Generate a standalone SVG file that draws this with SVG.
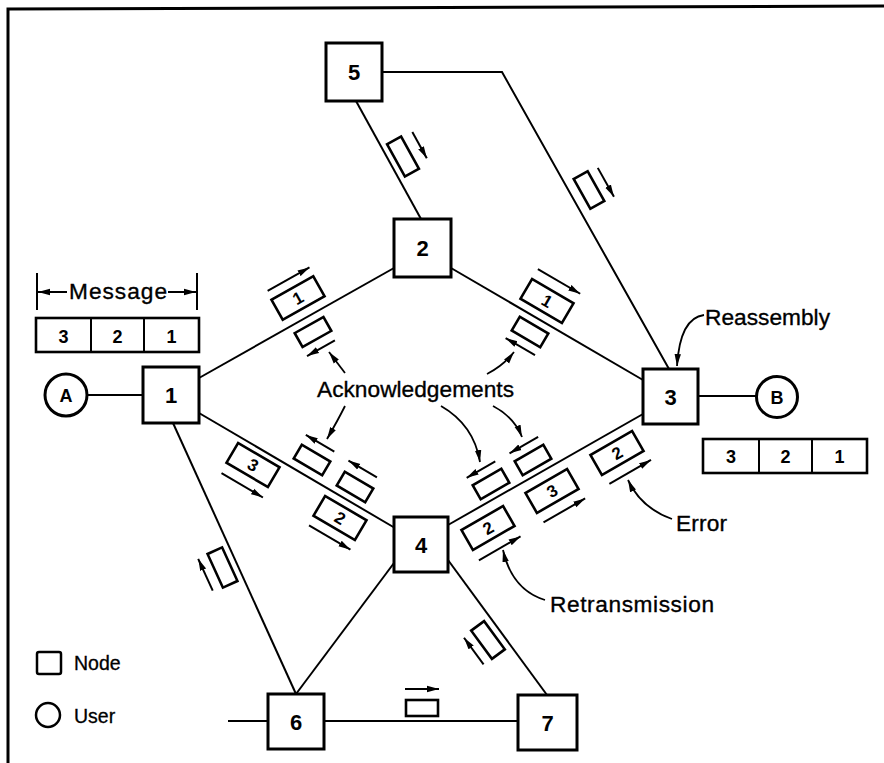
<svg xmlns="http://www.w3.org/2000/svg" width="884" height="763" viewBox="0 0 884 763">
<style>
  .ln{stroke:#000;stroke-width:2;fill:none}
  .bx{stroke:#000;stroke-width:3;fill:#fff}
  .pk{stroke:#000;stroke-width:2.6;fill:#fff}
  .ar{stroke:#000;stroke-width:2;fill:none;marker-end:url(#ah)}
  .cv{stroke:#000;stroke-width:1.8;fill:none;marker-end:url(#ah)}
  .num{font-family:"Liberation Sans",Arial,sans-serif;font-weight:bold;font-size:22px;text-anchor:middle}
  .pn{font-family:"Liberation Sans",Arial,sans-serif;font-weight:bold;font-size:17px;text-anchor:middle}
  .mn{font-family:"Liberation Sans",Arial,sans-serif;font-weight:bold;font-size:18px;text-anchor:middle}
  .lb{font-family:"Liberation Sans",Arial,sans-serif;font-size:22.7px;stroke:#000;stroke-width:0.35}
  .lg{font-family:"Liberation Sans",Arial,sans-serif;font-size:19.5px;stroke:#000;stroke-width:0.3}
</style>
<defs>
  <marker id="ah" markerUnits="userSpaceOnUse" markerWidth="13" markerHeight="8" refX="12" refY="4" orient="auto">
    <path d="M0,0.8 L12,4 L0,7.2 z" fill="#000"/>
  </marker>
</defs>
<rect width="884" height="763" fill="#fff"/>
<!-- frame -->
<path d="M8,763 L8,9 L884,6" stroke="#000" stroke-width="3" fill="none"/>

<!-- connectors -->
<g id="connectors">
  <line class="ln" x1="87" y1="395" x2="143" y2="395"/>
  <line class="ln" x1="698" y1="396" x2="757" y2="396"/>
  <line class="ln" x1="199" y1="378" x2="394" y2="268"/>
  <line class="ln" x1="451" y1="268" x2="643" y2="380"/>
  <line class="ln" x1="199" y1="413" x2="395" y2="528"/>
  <line class="ln" x1="448" y1="525" x2="643" y2="414"/>
  <line class="ln" x1="356" y1="101" x2="421" y2="219"/>
  <polyline class="ln" points="382,72 502,72 669,369"/>
  <line class="ln" x1="173" y1="423" x2="296" y2="694"/>
  <line class="ln" x1="394" y1="563" x2="296" y2="694"/>
  <line class="ln" x1="448" y1="560" x2="547" y2="695"/>
  <line class="ln" x1="228" y1="721" x2="268" y2="721"/>
  <line class="ln" x1="324" y1="721" x2="518" y2="721"/>
</g>

<!-- nodes -->
<g id="node5"><rect class="bx" x="326" y="43" width="56" height="58"/><text class="num" x="354" y="80">5</text></g>
<g id="node2"><rect class="bx" x="394" y="219" width="57" height="58"/><text class="num" x="422.5" y="256">2</text></g>
<g id="node1"><rect class="bx" x="143" y="367" width="56" height="56"/><text class="num" x="171" y="403">1</text></g>
<g id="node3"><rect class="bx" x="643" y="369" width="55" height="55"/><text class="num" x="670.5" y="404.5">3</text></g>
<g id="node4"><rect class="bx" x="394" y="517" width="54" height="55"/><text class="num" x="421" y="552.5">4</text></g>
<g id="node6"><rect class="bx" x="268" y="694" width="56" height="55"/><text class="num" x="296" y="729.5">6</text></g>
<g id="node7"><rect class="bx" x="518" y="695" width="59" height="55"/><text class="num" x="547.5" y="730.5">7</text></g>
<g id="userA"><circle class="bx" cx="66" cy="395" r="21" stroke-width="2.5"/><text class="mn" x="66" y="401.5">A</text></g>
<g id="userB"><circle class="bx" cx="777" cy="397" r="20.5" stroke-width="2.5"/><text class="mn" x="777" y="403.5">B</text></g>

<!-- packets -->
<g id="packets">
  <!-- 1-2 -->
  <g transform="translate(298,298) rotate(-29.4)"><rect class="pk" x="-24" y="-11.5" width="48" height="23"/><text class="pn" x="0" y="6">1</text><line class="ar" x1="-23" y1="-21" x2="25" y2="-21"/></g>
  <g transform="translate(313,332) rotate(-29.4)"><rect class="pk" x="-16.5" y="-8" width="33" height="16"/><line class="ar" x1="15" y1="18" x2="-17" y2="18"/></g>
  <!-- 2-3 -->
  <g transform="translate(547,301) rotate(30.3)"><rect class="pk" x="-24" y="-11.5" width="48" height="23"/><text class="pn" x="0" y="6">1</text><line class="ar" x1="-24" y1="-23" x2="25" y2="-23"/></g>
  <g transform="translate(530,332) rotate(30.3)"><rect class="pk" x="-16.5" y="-8" width="33" height="16"/><line class="ar" x1="16" y1="17.5" x2="-18" y2="17.5"/></g>
  <!-- 1-4 -->
  <g transform="translate(253,465) rotate(30.4)"><rect class="pk" x="-24" y="-11.5" width="48" height="23"/><text class="pn" x="0" y="6">3</text><line class="ar" x1="-23" y1="23" x2="25" y2="23"/></g>
  <g transform="translate(340,518) rotate(30.4)"><rect class="pk" x="-24" y="-11.5" width="48" height="23"/><text class="pn" x="0" y="6">2</text><line class="ar" x1="-23" y1="22" x2="25" y2="22"/></g>
  <g transform="translate(312,460) rotate(30.4)"><rect class="pk" x="-16.5" y="-8" width="33" height="16"/><line class="ar" x1="15" y1="-18.5" x2="-18" y2="-18.5"/></g>
  <g transform="translate(355,487) rotate(30.4)"><rect class="pk" x="-16.5" y="-8" width="33" height="16"/><line class="ar" x1="14" y1="-19.5" x2="-19" y2="-19.5"/></g>
  <!-- 4-3 -->
  <g transform="translate(491,484) rotate(-29.9)"><rect class="pk" x="-16.5" y="-8" width="33" height="16"/><line class="ar" x1="15" y1="-17.5" x2="-18" y2="-17.5"/></g>
  <g transform="translate(533,460) rotate(-29.9)"><rect class="pk" x="-16.5" y="-8" width="33" height="16"/><line class="ar" x1="16" y1="-17.5" x2="-17" y2="-17.5"/></g>
  <g transform="translate(552,491) rotate(-29.9)"><rect class="pk" x="-24" y="-11.5" width="48" height="23"/><text class="pn" x="0" y="6">3</text><line class="ar" x1="-23" y1="23" x2="25" y2="23"/></g>
  <g transform="translate(488,528) rotate(-29.9)"><rect class="pk" x="-24" y="-11.5" width="48" height="23"/><text class="pn" x="0" y="6">2</text><line class="ar" x1="-24" y1="23.5" x2="24" y2="23.5"/></g>
  <g transform="translate(617,453) rotate(-29.9)"><rect class="pk" x="-24" y="-11.5" width="48" height="23"/><text class="pn" x="0" y="6">2</text><line class="ar" x1="-22" y1="23" x2="26" y2="23"/></g>
  <!-- 5-2, 5-3 -->
  <g transform="translate(403,156.5) rotate(61.2)"><rect class="pk" x="-18.5" y="-8" width="37" height="16"/><line class="ar" x1="-17" y1="-20" x2="13" y2="-20"/></g>
  <g transform="translate(589,190) rotate(60.7)"><rect class="pk" x="-17" y="-8" width="34" height="16"/><line class="ar" x1="-15" y1="-18.5" x2="18" y2="-18.5"/></g>
  <!-- 1-6, 4-7, 6-7 -->
  <g transform="translate(222.5,567.5) rotate(65.5)"><rect class="pk" x="-18.5" y="-8" width="37" height="16"/><line class="ar" x1="17" y1="18.5" x2="-18" y2="18.5"/></g>
  <g transform="translate(488,640) rotate(53.7)"><rect class="pk" x="-17.5" y="-8" width="35" height="16"/><line class="ar" x1="17" y1="18" x2="-16" y2="18"/></g>
  <g transform="translate(422,708)"><rect class="pk" x="-16" y="-8" width="32" height="16"/><line class="ar" x1="-17" y1="-19" x2="17" y2="-19"/></g>
</g>

<!-- message legend -->
<g id="message">
  <line class="ln" x1="37" y1="273" x2="37" y2="310"/>
  <line class="ln" x1="197" y1="273" x2="197" y2="310"/>
  <line class="ar" x1="67" y1="292" x2="38" y2="292"/>
  <line class="ar" x1="168" y1="292" x2="196" y2="292"/>
  <text class="lb" x="69" y="299" textLength="98">Message</text>
  <rect x="36" y="318" width="163" height="34" fill="#fff" stroke="#000" stroke-width="2.6"/>
  <line class="ln" x1="91" y1="318" x2="91" y2="352"/>
  <line class="ln" x1="144" y1="318" x2="144" y2="352"/>
  <text class="mn" x="63.5" y="343">3</text>
  <text class="mn" x="117.5" y="343">2</text>
  <text class="mn" x="171.5" y="343">1</text>
</g>
<g id="reassembled">
  <rect x="703" y="439" width="164" height="34" fill="#fff" stroke="#000" stroke-width="2.6"/>
  <line class="ln" x1="759" y1="439" x2="759" y2="473"/>
  <line class="ln" x1="812" y1="439" x2="812" y2="473"/>
  <text class="mn" x="731" y="463">3</text>
  <text class="mn" x="785.5" y="463">2</text>
  <text class="mn" x="839.5" y="463">1</text>
</g>

<!-- annotations -->
<g id="annotations">
  <text class="lb" x="317" y="397" textLength="197">Acknowledgements</text>
  <line class="cv" x1="345" y1="373" x2="329" y2="352"/>
  <path class="cv" d="M345,406 Q338,420 327,439"/>
  <path class="cv" d="M487,374 Q503,366 514,352"/>
  <path class="cv" d="M441,406 Q474,425 480,462"/>
  <path class="cv" d="M493,406 Q514,417 522,437"/>
  <text class="lb" x="705" y="325" textLength="125">Reassembly</text>
  <path class="cv" d="M704,315 Q680,318 677,366"/>
  <text class="lb" x="676" y="531" textLength="51">Error</text>
  <path class="cv" d="M672,519 Q641,508 628,480"/>
  <text class="lb" x="550" y="612" textLength="164">Retransmission</text>
  <path class="cv" d="M545,600 Q512,590 503,550"/>
</g>

<!-- legend -->
<g id="legend">
  <rect x="37" y="652" width="24" height="22" rx="2" fill="#fff" stroke="#000" stroke-width="2.5"/>
  <text class="lg" x="74" y="670">Node</text>
  <circle cx="48" cy="715" r="12" fill="#fff" stroke="#000" stroke-width="2.5"/>
  <text class="lg" x="74" y="723">User</text>
</g>
</svg>
